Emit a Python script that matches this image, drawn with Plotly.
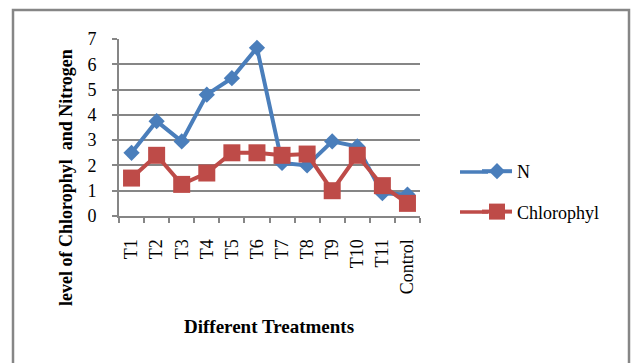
import plotly.graph_objects as go

categories = ["T1", "T2", "T3", "T4", "T5", "T6", "T7", "T8", "T9", "T10", "T11", "Control"]
n_values = [2.5, 3.75, 2.95, 4.8, 5.45, 6.65, 2.1, 2.0, 2.95, 2.75, 0.9, 0.85]
chl_values = [1.5, 2.4, 1.25, 1.7, 2.5, 2.5, 2.4, 2.45, 1.0, 2.4, 1.2, 0.5]
y_ticks = [0, 1, 2, 3, 4, 5, 6, 7]

FONT = "Liberation Serif, Times New Roman, serif"
L, R, T, B = 119, 420, 39, 216
PW, PH = R - L, B - T
N_COLOR, C_COLOR = "#4a7ebb", "#be4b48"

fig = go.Figure()
fig.add_trace(go.Scatter(
    x=categories, y=n_values, name="N", mode="lines+markers", legendgroup="a",
    line=dict(color=N_COLOR, width=4),
    marker=dict(symbol="diamond", size=12.5, color=N_COLOR),
))
fig.add_trace(go.Scatter(
    x=categories, y=chl_values, name="Chlorophyl", mode="lines+markers", legendgroup="b",
    line=dict(color=C_COLOR, width=4),
    marker=dict(symbol="square", size=17, color=C_COLOR),
))


def legend_ext(y_px, color):
    return dict(type="line", xref="paper", yref="paper",
                x0=(460 - L) / PW, x1=(488 - L) / PW,
                y0=(B - y_px) / PH, y1=(B - y_px) / PH,
                line=dict(color=color, width=3.5))


fig.update_layout(
    width=635, height=363,
    margin=dict(l=L, r=635 - R, t=T, b=363 - B, autoexpand=False),
    paper_bgcolor="white", plot_bgcolor="white",
    font=dict(family=FONT, size=18, color="black"),
    showlegend=True,
    legend=dict(x=(477 - L) / PW, y=(B - 153) / PH, xanchor="left", yanchor="top",
                font=dict(family=FONT, size=18), tracegroupgap=14,
                traceorder="grouped",
                bgcolor="rgba(0,0,0,0)"),
    xaxis=dict(
        type="category", tickson="boundaries", ticks="outside", ticklen=5,
        tickcolor="#868686", tickwidth=2, showline=True, linecolor="#868686", linewidth=2,
        tickangle=-90, showgrid=False, tickfont=dict(family=FONT, size=18),
        ticklabelstandoff=14,
        range=[-0.5, len(categories) - 0.5],
    ),
    yaxis=dict(
        range=[0, 7], tickvals=y_ticks, ticks="outside", ticklen=5,
        tickcolor="#868686", tickwidth=2, showline=True, linecolor="#868686", linewidth=2,
        showgrid=True, gridcolor="#868686", gridwidth=2,
        tickfont=dict(family=FONT, size=18), zeroline=False,
        ticklabelstandoff=12,
    ),
    annotations=[
        dict(text="<b>level of Chlorophyl  and Nitrogen</b>", xref="paper", yref="paper",
             x=(66 - L) / PW, y=(B - 178) / PH, xanchor="center", yanchor="middle", textangle=-90,
             showarrow=False, font=dict(family=FONT, size=18)),
        dict(text="<b>Different Treatments</b>", xref="paper", yref="paper",
             x=(269 - L) / PW, y=(B - 326) / PH, xanchor="center", yanchor="middle",
             showarrow=False, font=dict(family=FONT, size=19)),
    ],
    shapes=[
        dict(type="rect", xref="paper", yref="paper",
             x0=(13 - L) / PW, x1=(629 - L) / PW,
             y0=(B - 380) / PH, y1=(B - 10) / PH,
             line=dict(color="#868686", width=2.5), layer="below"),
        legend_ext(172, N_COLOR),
        legend_ext(212, C_COLOR),
    ],
)

fig.write_html("out.html", config={"displayModeBar": False},
               post_script="document.body.style.margin='0';document.body.style.overflow='hidden';")
